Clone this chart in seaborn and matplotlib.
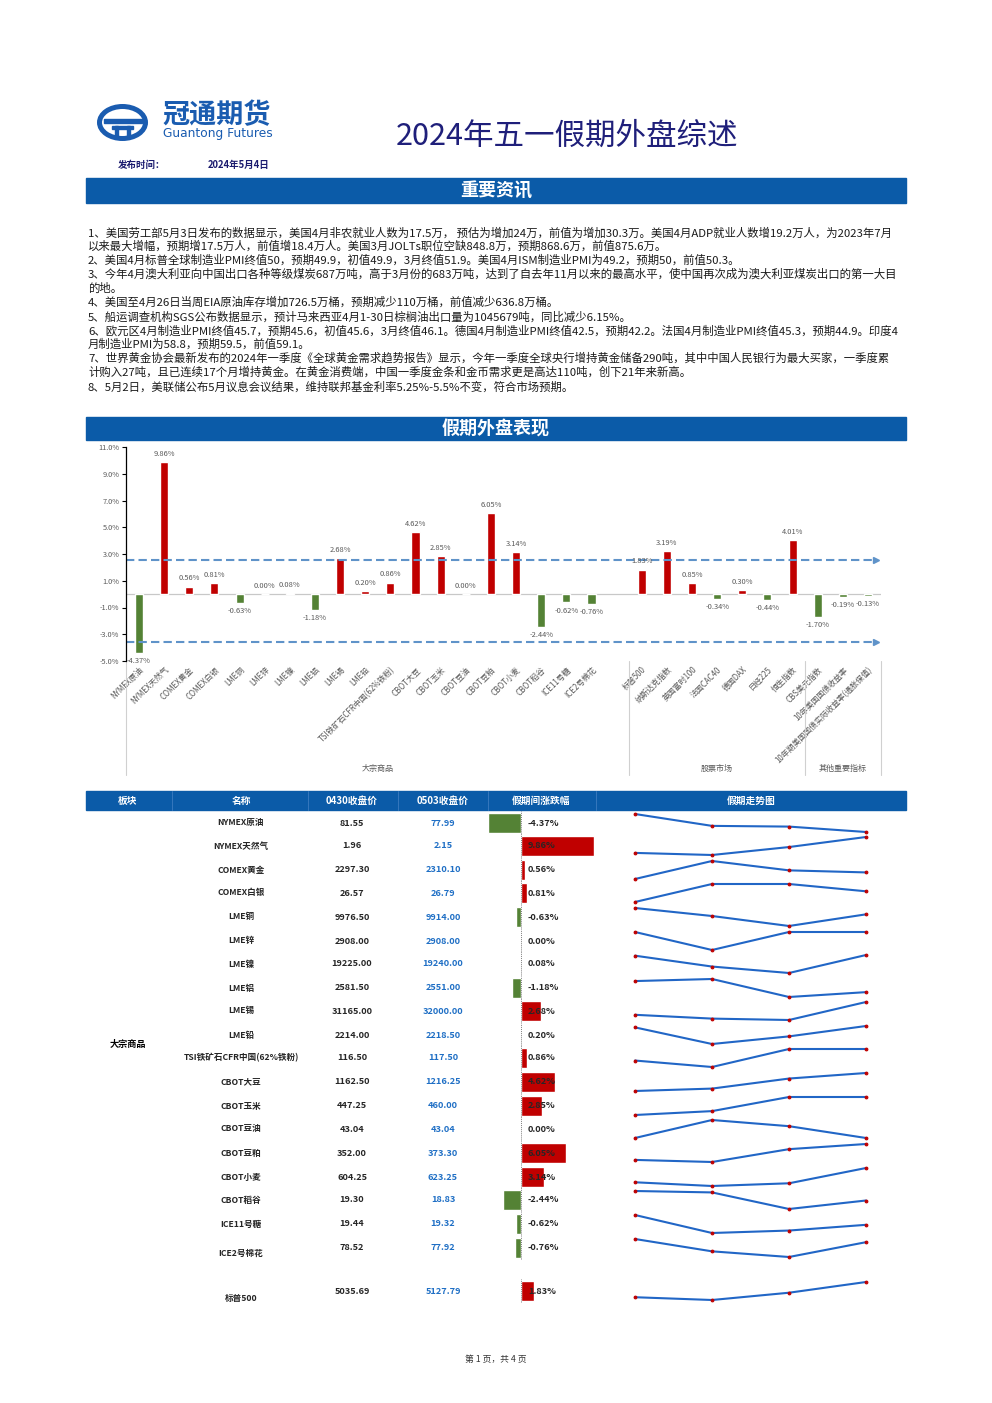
import numpy as np
import pandas as pd
import matplotlib
matplotlib.use("Agg")
import matplotlib.pyplot as plt
import seaborn as sns
from matplotlib.patches import Rectangle, Ellipse
from matplotlib import transforms

# ---------------- data ----------------
commodity_names = ["NYMEX原油", "NYMEX天然气", "COMEX黄金", "COMEX白银", "LME铜", "LME锌",
                   "LME镍", "LME铝", "LME锡", "LME铅", "TSI铁矿石CFR中国(62%铁粉)", "CBOT大豆",
                   "CBOT玉米", "CBOT豆油", "CBOT豆粕", "CBOT小麦", "CBOT稻谷", "ICE11号糖", "ICE2号棉花"]
commodity_chg = [-4.37, 9.86, 0.56, 0.81, -0.63, 0.00, 0.08, -1.18, 2.68, 0.20, 0.86, 4.62,
                 2.85, 0.00, 6.05, 3.14, -2.44, -0.62, -0.76]
stock_names = ["标普500", "纳斯达克指数", "英国富时100", "法国CAC40", "德国DAX", "日经225", "恒生指数"]
stock_chg = [1.83, 3.19, 0.85, -0.34, 0.30, -0.44, 4.01]
other_names = ["CBS美元指数", "10年美国国债收益率", "10年期美国国债实际收益率(通胀保值)"]
other_chg = [-1.70, -0.19, -0.13]
group_names = ["大宗商品", "股票市场", "其他重要指标"]
band_upper = 2.55
band_lower = -3.6

table_names = commodity_names + ["标普500"]
table_chg = commodity_chg + [1.83]
close_0430 = ["81.55", "1.96", "2297.30", "26.57", "9976.50", "2908.00", "19225.00", "2581.50",
              "31165.00", "2214.00", "116.50", "1162.50", "447.25", "43.04", "352.00", "604.25",
              "19.30", "19.44", "78.52", "5035.69"]
close_0503 = ["77.99", "2.15", "2310.10", "26.79", "9914.00", "2908.00", "19240.00", "2551.00",
              "32000.00", "2218.50", "117.50", "1216.25", "460.00", "43.04", "373.30", "623.25",
              "18.83", "19.32", "77.92", "5127.79"]
# holiday trend (4 closes per row, 04/30 -> 05/03)
trend_points = [
    [81.55, 79.20, 79.06, 77.99],
    [1.96, 1.935, 2.03, 2.15],
    [2297.3, 2332.3, 2314.1, 2310.1],
    [26.57, 26.94, 26.94, 26.79],
    [9976.5, 9897.6, 9798.9, 9914.0],
    [2908.0, 2861.0, 2908.0, 2908.0],
    [19225.0, 18985.0, 18842.5, 19240.0],
    [2581.5, 2587.2, 2537.6, 2551.0],
    [31165.0, 30917.0, 30826.0, 32000.0],
    [2214.0, 2160.0, 2184.75, 2218.5],
    [116.5, 115.94, 117.5, 117.5],
    [1162.5, 1169.7, 1199.7, 1216.25],
    [447.25, 450.0, 460.0, 460.0],
    [43.04, 44.00, 43.67, 43.04],
    [352.0, 349.2, 366.4, 373.3],
    [604.25, 599.3, 602.9, 623.25],
    [19.30, 19.23, 18.41, 18.83],
    [19.44, 19.22, 19.25, 19.32],
    [78.52, 76.19, 75.12, 77.92],
    [5035.69, 5018.9, 5062.9, 5127.79],
]

news_lines = [
    "1、美国劳工部5月3日发布的数据显示，美国4月非农就业人数为17.5万， 预估为增加24万，前值为增加30.3万。美国4月ADP就业人数增19.2万人，为2023年7月",
    "以来最大增幅，预期增17.5万人，前值增18.4万人。美国3月JOLTs职位空缺848.8万，预期868.6万，前值875.6万。",
    "2、美国4月标普全球制造业PMI终值50，预期49.9，初值49.9，3月终值51.9。美国4月ISM制造业PMI为49.2，预期50，前值50.3。",
    "3、今年4月澳大利亚向中国出口各种等级煤炭687万吨，高于3月份的683万吨，达到了自去年11月以来的最高水平，使中国再次成为澳大利亚煤炭出口的第一大目",
    "的地。",
    "4、美国至4月26日当周EIA原油库存增加726.5万桶，预期减少110万桶，前值减少636.8万桶。",
    "5、船运调查机构SGS公布数据显示，预计马来西亚4月1-30日棕榈油出口量为1045679吨，同比减少6.15%。",
    "6、欧元区4月制造业PMI终值45.7，预期45.6，初值45.6，3月终值46.1。德国4月制造业PMI终值42.5，预期42.2。法国4月制造业PMI终值45.3，预期44.9。印度4",
    "月制造业PMI为58.8，预期59.5，前值59.1。",
    "7、世界黄金协会最新发布的2024年一季度《全球黄金需求趋势报告》显示，今年一季度全球央行增持黄金储备290吨，其中中国人民银行为最大买家，一季度累",
    "计购入27吨，且已连续17个月增持黄金。在黄金消费端，中国一季度金条和金币需求更是高达110吨，创下21年来新高。",
    "8、5月2日，美联储公布5月议息会议结果，维持联邦基金利率5.25%-5.5%不变，符合市场预期。",
]

# ---------------- style / layout ----------------
sns.set_theme(style="white")
plt.rcParams["font.family"] = ["Noto Sans CJK SC", "DejaVu Sans"]
plt.rcParams["axes.unicode_minus"] = False

W, H = 992, 1403
RED, GREEN = "#c00000", "#548235"
BANNER = "#0b5ba8"
GREY = "#595959"

news_y = [233, 246, 260, 274, 288, 302, 317, 331, 344, 358, 372, 387]
row_y = [823, 846, 870, 893, 917, 941, 964, 988, 1011, 1035, 1058, 1082, 1106, 1129,
         1153, 1177, 1200, 1224, 1248, 1291]
name_dy = {18: 5, 19: 7}


def box(x0, y0, x1, y1):
    return [x0 / W, 1 - y1 / H, (x1 - x0) / W, (y1 - y0) / H]


fig = plt.figure(figsize=(W / 100, H / 100), dpi=100)
pg = fig.add_axes([0, 0, 1, 1])
pg.set_xlim(0, W)
pg.set_ylim(H, 0)
pg.axis("off")

# logo
logo_blue = "#1a5cb0"
pg.add_patch(Ellipse((122.5, 122.5), 46, 32, fill=False, ec=logo_blue, lw=3.6))
pg.add_patch(Rectangle((104, 118.5), 38, 4, color=logo_blue))
pg.add_patch(Rectangle((112, 125.5), 21, 3.2, color=logo_blue))
pg.add_patch(Rectangle((115, 125.5), 3, 12, color=logo_blue))
pg.add_patch(Rectangle((127, 125.5), 3, 12, color=logo_blue))
pg.text(162, 115, "冠通期货", fontsize=19.5, weight="bold", color=logo_blue, va="center")
pg.text(163, 133, "Guantong Futures", fontsize=8.8, color=logo_blue, va="center",
        family=["DejaVu Sans"])

pg.text(567, 136, "2024年五一假期外盘综述", fontsize=22, color="#1f1f7a", ha="center", va="center")
pg.text(118, 165, "发布时间：", fontsize=6.8, weight="bold", color="#1a1a6e", va="center")
pg.text(208, 165, "2024年5月4日", fontsize=6.8, weight="bold", color="#1a1a6e", va="center")

# banners
for (y0, y1, label) in [(178, 203, "重要资讯"), (417, 440, "假期外盘表现")]:
    pg.add_patch(Rectangle((86, y0), 820, y1 - y0, color=BANNER))
    pg.text(496, (y0 + y1) / 2 + 1, label, fontsize=13, color="white", weight="bold",
            ha="center", va="center")

for y, line in zip(news_y, news_lines):
    pg.text(88, y, line, fontsize=8.2, color="#1a1a1a", va="center")

# ---------------- bar chart ----------------
slot_order = commodity_names + [" "] + stock_names + other_names
df = pd.DataFrame({"name": commodity_names + stock_names + other_names,
                   "chg": commodity_chg + stock_chg + other_chg})
df["dir"] = np.where(df["chg"] >= 0, "up", "down")

ax = fig.add_axes(box(126.4, 447, 880.6, 661))
sns.barplot(data=df, x="name", y="chg", hue="dir", order=slot_order,
            palette={"up": RED, "down": GREEN}, width=0.32, dodge=False, saturation=1,
            legend=False, ax=ax)
ax.set_ylim(-5, 11)
ax.set_xlim(-0.5, len(slot_order) - 0.5)
ticks = np.arange(-5, 12, 2)
ax.set_yticks(ticks)
ax.set_yticklabels([f"{t:.1f}%" for t in ticks], fontsize=5.3, color=GREY)
ax.tick_params(axis="y", length=3, width=0.8, color="black", left=True, pad=2)
ax.tick_params(axis="x", length=0, pad=3)
ax.set_xticks(range(len(slot_order)))
ax.set_xticklabels(slot_order, rotation=45, ha="right", rotation_mode="anchor",
                   fontsize=5.7, color=GREY)
ax.set_xlabel("")
ax.set_ylabel("")
for s in ["top", "right", "bottom"]:
    ax.spines[s].set_visible(False)
ax.spines["left"].set_color("black")
ax.spines["left"].set_linewidth(0.9)
ax.axhline(0, color="#c8c8c8", lw=0.9, zorder=0)

for _, r in df.iterrows():
    xi = slot_order.index(r["name"])
    v = r["chg"]
    up = v >= 0
    ax.annotate(f"{v:.2f}%", (xi, v), xytext=(0, 3 if up else -3), textcoords="offset points",
                ha="center", va="bottom" if up else "top", fontsize=5.4, color=GREY)

for yb in [band_upper, band_lower]:
    ax.plot([-0.5, 29.25], [yb, yb], ls=(0, (4, 2)), color="#5f93c9", lw=1.5, clip_on=False)
    ax.plot([29.3], [yb], marker=">", ms=4, color="#5f93c9", clip_on=False)

# group separators and labels under the axis
tr = transforms.blended_transform_factory(ax.transData, ax.transAxes)
bounds = [-0.5, len(commodity_names) + 0.5, len(commodity_names) + 1 + len(stock_names) - 0.5,
          len(slot_order) - 0.5]
for xb in bounds:
    ax.plot([xb, xb], [0, -0.535], color="#d0d0d0", lw=0.8, transform=tr, clip_on=False)
for i, g in enumerate(group_names):
    ax.text((bounds[i] + bounds[i + 1]) / 2, -0.50, g, transform=tr, ha="center", va="center",
            fontsize=5.8, color=GREY)

# ---------------- table ----------------
pg.add_patch(Rectangle((86, 791), 820, 19, color=BANNER))
for xs in [172, 308, 398, 488, 596]:
    pg.plot([xs, xs], [791, 810], color="#3d7cc0", lw=0.6)
for xc, lab in [(128, "板块"), (241, "名称"), (352, "0430收盘价"), (443, "0503收盘价"),
                (541, "假期间涨跌幅"), (751, "假期走势图")]:
    pg.text(xc, 801, lab, fontsize=7, weight="bold", color="white", ha="center", va="center")
pg.text(128, 1045, "大宗商品", fontsize=6.6, weight="bold", color="black", ha="center", va="center")

for i, y in enumerate(row_y):
    yn = y + name_dy.get(i, 0)
    pg.text(241, yn, table_names[i], fontsize=6.2, weight="bold", ha="center", va="center")
    pg.text(352, y, close_0430[i], fontsize=6.6, weight="bold", ha="center", va="center")
    pg.text(443, y, close_0503[i], fontsize=6.6, weight="bold", color="#1f6fc5",
            ha="center", va="center")

    v = table_chg[i]
    bax = fig.add_axes(box(480, y - 11.8, 600, y + 11.8))
    sns.barplot(x=[v], y=[table_names[i]], orient="h", color=RED if v >= 0 else GREEN,
                width=0.82, saturation=1, ax=bax)
    bax.set_xlim(-5.5, 10.7)
    bax.axvline(0, color="#808080", lw=0.7, ls=(0, (1, 1)))
    bax.axis("off")
    bax.text(528, y, f"{v:.2f}%", transform=pg.transData, fontsize=6.6, weight="bold",
             ha="left", va="center", clip_on=False, zorder=5)

    pts = trend_points[i]
    sax = fig.add_axes(box(635, y - 9, 866, y + 9))
    sns.lineplot(x=[0, 1, 2, 3], y=pts, color="#2166c6", lw=1.5, marker="o", markersize=2,
                 markerfacecolor=RED, markeredgecolor=RED, ax=sax)
    sax.set_xlim(0, 3)
    sax.set_ylim(min(pts), max(pts))
    for ln in sax.lines:
        ln.set_clip_on(False)
    sax.axis("off")

pg.text(496, 1359, "第 1 页，共 4 页", fontsize=6.3, color="#333333", ha="center", va="center")

fig.savefig("out.png", dpi=100)
